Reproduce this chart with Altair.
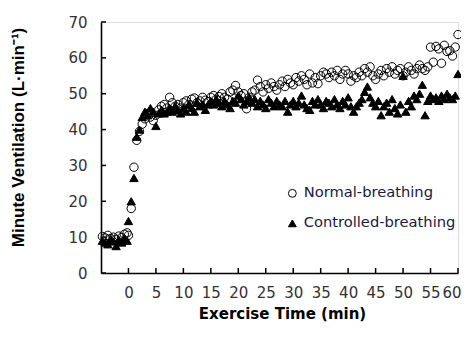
import altair as alt
import pandas as pd

# ---- data ----
base_t = [-4.75, -4.25, -3.75, -3.25, -2.75, -2.25, -1.75, -1.25, -0.75, -0.25]
normal_base = [10.2, 9.8, 10.5, 9.6, 10.0, 9.4, 10.3, 9.9, 10.8, 11.2]
controlled_base = [9.0, 8.5, 8.0, 9.5, 8.8, 7.5, 9.2, 8.5, 9.8, 9.0]

ex_t = [0, 0.5, 1, 1.5, 2, 2.5, 3, 3.5, 4, 4.5, 5, 5.5, 6, 6.5, 7, 7.5, 8, 8.5, 9, 9.5,
        10, 10.5, 11, 11.5, 12, 12.5, 13, 13.5, 14, 14.5, 15, 15.5, 16, 16.5, 17, 17.5, 18, 18.5, 19, 19.5,
        20, 20.5, 21, 21.5, 22, 22.5, 23, 23.5, 24, 24.5, 25, 25.5, 26, 26.5, 27, 27.5, 28, 28.5, 29, 29.5,
        30, 30.5, 31, 31.5, 32, 32.5, 33, 33.5, 34, 34.5, 35, 35.5, 36, 36.5, 37, 37.5, 38, 38.5, 39, 39.5,
        40, 40.5, 41, 41.5, 42, 42.5, 43, 43.5, 44, 44.5, 45, 45.5, 46, 46.5, 47, 47.5, 48, 48.5, 49, 49.5,
        50, 50.5, 51, 51.5, 52, 52.5, 53, 53.5, 54, 54.5, 55, 55.5, 56, 56.5, 57, 57.5, 58, 58.5, 59, 59.5,
        60]

normal_ex = [10.5, 18.0, 29.5, 37.0, 39.5, 41.5, 43.0, 44.5, 43.5, 42.5,
             44.0, 45.5, 46.5, 47.0, 46.0, 49.0, 47.5, 46.5, 47.0, 46.0,
             47.5, 48.0, 47.0, 48.5, 48.8, 47.5, 48.0, 49.0, 48.2, 47.8,
             49.0, 49.5, 48.5, 49.2, 50.0, 49.0, 48.5, 50.5, 51.0, 52.3,
             50.5, 49.5, 50.0, 45.8, 49.0, 50.5, 51.0, 53.8, 52.0, 50.5,
             52.5, 51.5, 53.0, 52.0, 51.0, 52.5, 53.5, 52.0, 54.0, 53.0,
             52.5, 54.5, 53.5, 55.0, 54.0, 52.5, 55.5, 53.0, 54.5, 52.8,
             55.0, 56.0, 55.5, 54.5, 56.0, 55.0, 56.5, 54.0, 55.5, 56.5,
             55.5, 53.5, 55.0, 54.5, 56.0, 55.0, 57.0, 56.0, 57.5, 55.0,
             54.0, 55.5, 56.5, 55.0, 57.0, 56.0, 57.5, 55.5, 56.5, 57.0,
             55.0, 56.0, 57.5, 56.5, 55.5, 57.0, 58.0, 57.0, 56.5, 57.5,
             63.0, 58.8, 63.2, 62.5, 58.5, 63.5, 61.8, 62.0, 60.5, 63.0,
             66.5]

controlled_ex = [14.5, 20.0, 26.5, 38.0, 40.0, 43.5, 45.0, 44.0, 46.0, 45.0,
                 41.0, 44.5, 45.5, 44.5, 45.0, 46.0, 45.0, 46.5, 45.5, 44.5,
                 46.0, 45.0, 47.0, 46.0, 45.0, 47.5, 46.5, 47.0, 45.5, 47.0,
                 48.0, 47.0, 48.5, 47.5, 46.5, 48.0, 47.0, 46.0, 48.0, 47.5,
                 49.5, 48.5, 47.0, 48.0, 49.0, 47.5, 48.5, 46.5, 48.0, 47.0,
                 46.0, 48.5, 47.5, 46.5, 48.0, 47.0, 46.5, 48.0, 45.0, 47.0,
                 48.0, 46.5, 47.5, 49.5, 47.0, 46.0, 45.5, 48.0, 47.0, 48.5,
                 47.0, 46.0, 48.0, 47.5, 46.5, 48.5, 47.0, 46.0, 48.0, 47.0,
                 49.0, 46.5, 45.0, 46.5, 47.5, 48.5, 50.5, 52.0, 49.0, 47.5,
                 46.5, 48.0, 44.0, 46.5, 47.5, 45.0, 48.5, 46.0, 44.5, 47.0,
                 55.0, 45.0, 48.0, 46.5, 49.5, 48.5, 50.0, 52.5, 44.0, 48.0,
                 49.5, 48.5, 49.0, 48.0, 49.5, 48.5, 50.0, 49.0, 48.5, 49.5,
                 55.5]

series_names = ["Normal-breathing", "Controlled-breathing"]
x_ticks = [0, 5, 10, 15, 20, 25, 30, 35, 40, 45, 50, 55, 60]
y_ticks = [0, 10, 20, 30, 40, 50, 60, 70]

# ---- tables ----
rows = []
for t, v in zip(base_t + ex_t, controlled_base + controlled_ex):
    rows.append({"t": t, "v": v, "s": series_names[1], "o": 0})
for t, v in zip(base_t + ex_t, normal_base + normal_ex):
    rows.append({"t": t, "v": v, "s": series_names[0], "o": 1})
df = pd.DataFrame(rows)

W, H = 357, 251
xs = alt.Scale(domain=[-5, 60], nice=False, zero=False)
ys = alt.Scale(domain=[0, 70], nice=False)

x_axis = alt.Axis(
    values=x_ticks, title="Exercise Time (min)", ticks=False, tickSize=0, labelOverlap=False,
    labelPadding=12, labelFont="DejaVu Sans", labelFontSize=15, labelColor="#333333",
    domainColor="black", domainWidth=1.6, grid=False, labelFlush=True, labelFlushOffset=3,
    titleFont="DejaVu Sans", titleFontSize=15, titleFontWeight="bold", titleColor="black",
    titleX=181, titleY=40, titleAlign="center", titleBaseline="middle")
y_axis = alt.Axis(
    values=y_ticks, title="Minute Ventilation (L·min⁻¹)", ticks=False, tickSize=0, labelOverlap=False,
    labelPadding=14, labelFont="DejaVu Sans", labelFontSize=15, labelColor="#333333",
    domainColor="black", domainWidth=1.6, grid=False, labelFlush=False,
    titleFont="Liberation Sans", titleFontSize=17, titleFontWeight="bold", titleColor="black",
    titleX=-83, titleY=115, titleAngle=270, titleAlign="center", titleBaseline="middle")


def leg():
    return alt.Legend(title=None, orient="none", legendX=184, legendY=164, padding=0,
                      labelFont="DejaVu Sans", labelFontSize=14.7, labelColor="#1a1a3a",
                      labelOffset=4, rowPadding=14, symbolSize=62,
                      symbolStrokeWidth=1)


points = alt.Chart(df).mark_point(size=70, strokeWidth=1, opacity=1).encode(
    x=alt.X("t:Q", scale=xs, axis=x_axis),
    y=alt.Y("v:Q", scale=ys, axis=y_axis),
    shape=alt.Shape("s:N", scale=alt.Scale(domain=series_names, range=["circle", "triangle-up"]), legend=leg()),
    fill=alt.Fill("s:N", scale=alt.Scale(domain=series_names, range=["transparent", "black"]), legend=leg()),
    stroke=alt.Stroke("s:N", scale=alt.Scale(domain=series_names, range=["black", "black"]), legend=leg()),
    order=alt.Order("o:Q", sort="ascending"),
)

xt = pd.DataFrame({"t": x_ticks})
yt = pd.DataFrame({"v": y_ticks})
xtick_rules = alt.Chart(xt).mark_rule(color="black", strokeWidth=1.5).encode(
    x=alt.X("t:Q", scale=xs, axis=x_axis), y=alt.value(H), y2=alt.value(H - 5))
ytick_rules = alt.Chart(yt).mark_rule(color="black", strokeWidth=1.5).encode(
    y=alt.Y("v:Q", scale=ys, axis=y_axis), x=alt.value(0), x2=alt.value(5))

chart = alt.layer(points, xtick_rules, ytick_rules).properties(
    width=W, height=H,
    autosize=alt.AutoSizeParams(type="none"),
    padding={"left": 93, "top": 14, "right": 3, "bottom": 59},
).configure_view(stroke=None).configure(background="white")

chart.save("out.html", embed_options={"renderer": "svg", "actions": False})
